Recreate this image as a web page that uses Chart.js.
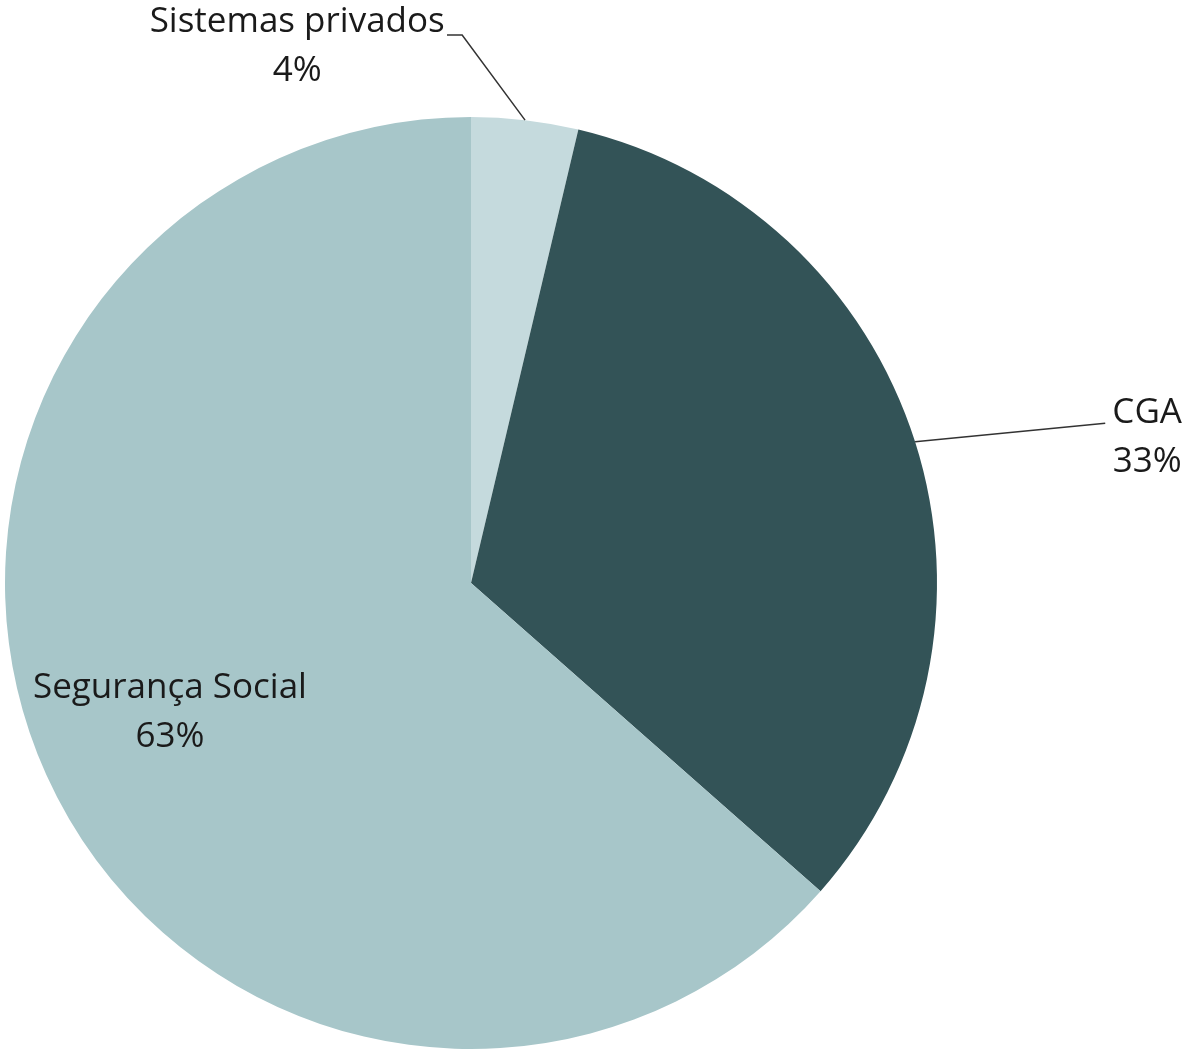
<!DOCTYPE html>
<html>
<head>
<meta charset="utf-8">
<script src="https://cdn.jsdelivr.net/npm/chart.js@4/dist/chart.umd.min.js"></script>
<style>
  html, body { margin: 0; padding: 0; background: #fff; }
  #wrap { width: 1189px; height: 1050px; position: relative; }
</style>
</head>
<body>
<div id="wrap"><canvas id="pieChart"></canvas></div>
<script>
// data
const categories = ["Sistemas privados", "CGA", "Segurança Social"];
const shares = [3.7, 32.8, 63.5];
const shareLabels = ["4%", "33%", "63%"];
const sliceColors = ["#c5dadd", "#335357", "#a7c6c9"];

// label placement, in units of the pie radius from its centre
const labelPos = [
  { x: -0.373, y: -1.182, line: [[-0.0515, -1.176], [-0.019, -1.176]] },
  { x: 1.451, y: -0.343, line: [[1.361, -0.343]] },
  { x: -0.646, y: 0.247, line: null },
];

const labelPlugin = {
  id: "pieLabels",
  afterDatasetsDraw(chart) {
    const ctx = chart.ctx;
    const arcs = chart.getDatasetMeta(0).data;
    ctx.save();
    arcs.forEach((arc, i) => {
      const p = arc.getProps(["x", "y", "startAngle", "endAngle", "outerRadius"], true);
      const r = p.outerRadius;
      const pos = labelPos[i];
      if (pos.line) {
        const mid = (p.startAngle + p.endAngle) / 2;
        ctx.beginPath();
        ctx.moveTo(p.x + Math.cos(mid) * r, p.y + Math.sin(mid) * r);
        for (let k = pos.line.length - 1; k >= 0; k--) {
          ctx.lineTo(p.x + pos.line[k][0] * r, p.y + pos.line[k][1] * r);
        }
        ctx.strokeStyle = "#333";
        ctx.lineWidth = 1.5;
        ctx.stroke();
      }
      ctx.font = "35px 'Open Sans'";
      ctx.fillStyle = "#1a1a1a";
      ctx.textAlign = "center";
      ctx.textBaseline = "alphabetic";
      const tx = p.x + pos.x * r;
      const ty = p.y + pos.y * r;
      ctx.fillText(categories[i], tx, ty);
      ctx.fillText(shareLabels[i], tx, ty + 49);
    });
    ctx.restore();
  },
};

new Chart(document.getElementById("pieChart").getContext("2d"), {
  type: "pie",
  data: {
    labels: categories,
    datasets: [{
      data: shares,
      backgroundColor: sliceColors,
      borderWidth: 0,
    }],
  },
  options: {
    responsive: true,
    maintainAspectRatio: false,
    animation: false,
    layout: { padding: { left: 5, right: 252, top: 117, bottom: 1 } },
    plugins: {
      legend: { display: false },
      tooltip: { enabled: false },
    },
  },
  plugins: [labelPlugin],
});
</script>
</body>
</html>
